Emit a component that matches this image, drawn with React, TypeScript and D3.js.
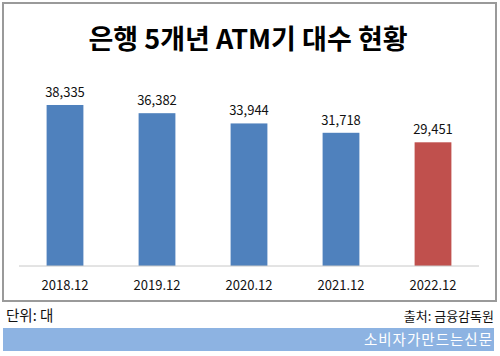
import React from "react";
import * as d3 from "d3";

const categories = ["2018.12", "2019.12", "2020.12", "2021.12", "2022.12"];
const values = [38335, 36382, 33944, 31718, 29451];
const barColors = ["#4F81BD", "#4F81BD", "#4F81BD", "#4F81BD", "#C0504D"];
const title = "은행 5개년 ATM기 대수 현황";
const unitText = "단위: 대";
const sourceText = "출처: 금융감독원";
const brandText = "소비자가만드는신문";

const W = 500;
const H = 356;
const FONT = "'Noto Sans CJK KR', 'Noto Sans', sans-serif";

export default function App() {
  const x = d3.scaleBand<string>().domain(categories).range([19, 479]).paddingInner(0.6).paddingOuter(0.3);
  const y = d3.scaleLinear().domain([0, 45000]).range([266, 77]);
  const fmt = d3.format(",");
  return (
    <svg width={W} height={H} style={{ position: "absolute", left: 0, top: 0, fontFamily: FONT }}>
      <rect x={0} y={0} width={W} height={H} fill="#fff" />
      <rect x={3} y={3} width={493} height={298} fill="#fff" stroke="#9a9a9a" strokeWidth={2} />
      <text x={248} y={49} textAnchor="middle" fontSize={27} fontWeight={700} fill="#000">
        {title}
      </text>
      {categories.map((c, i) => (
        <g key={c}>
          <rect x={x(c)} y={y(values[i])} width={x.bandwidth()} height={y(0) - y(values[i])} fill={barColors[i]} />
          <text x={(x(c) as number) + x.bandwidth() / 2} y={y(values[i]) - 8} textAnchor="middle" fontSize={13} fill="#111">
            {fmt(values[i])}
          </text>
          <text x={(x(c) as number) + x.bandwidth() / 2} y={290} textAnchor="middle" fontSize={13} fill="#111">
            {c}
          </text>
        </g>
      ))}
      <line x1={19} x2={479} y1={266} y2={266} stroke="#c8c8c8" strokeWidth={1} />
      <text x={6} y={321} fontSize={14.5} fill="#111">{unitText}</text>
      <text x={494} y={321} textAnchor="end" fontSize={13} fill="#111">{sourceText}</text>
      <rect x={3} y={328} width={491} height={23} fill="#8DB3E2" />
      <text x={493} y={345} textAnchor="end" fontSize={14.5} letterSpacing={1} fill="#fff">{brandText}</text>
    </svg>
  );
}
